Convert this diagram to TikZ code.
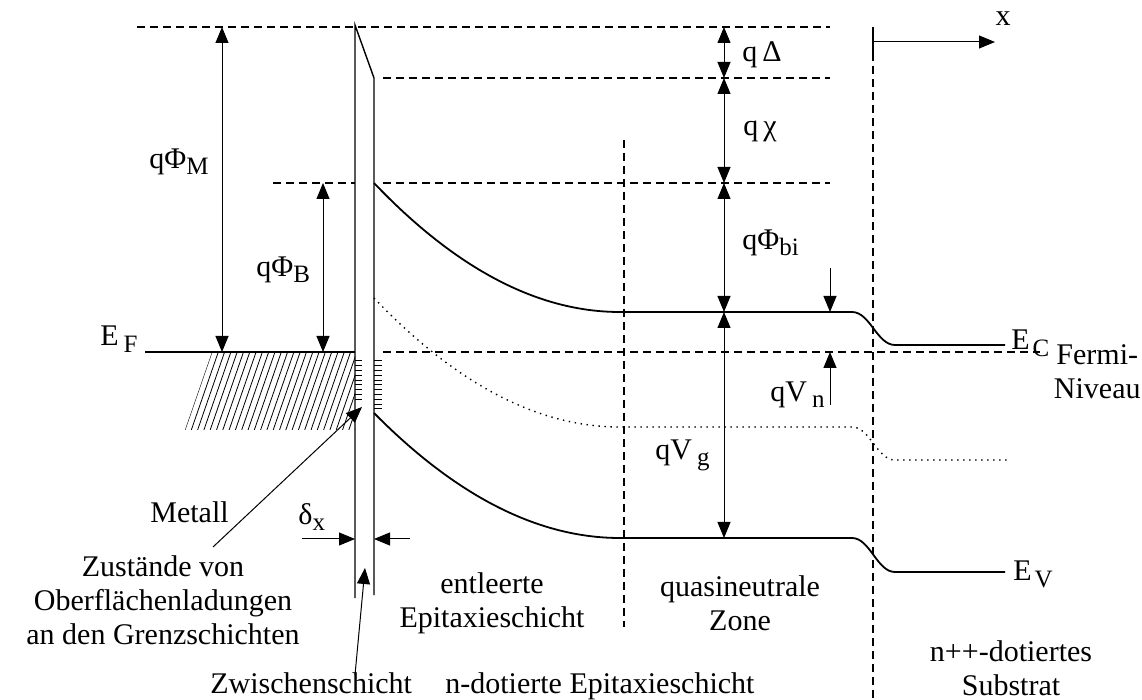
\documentclass[tikz,border=0pt]{standalone}
\usepackage{fontspec}
\setmainfont{Liberation Serif}
\usetikzlibrary{arrows.meta}
\newcommand\lowtxt[1]{\raisebox{-0.45ex}{\fontsize{12.5}{13}\selectfont #1}}

\begin{document}
\begin{tikzpicture}[x=0.5pt, y=-0.5pt,
    lbl/.style={font=\fontsize{15}{17}\selectfont, inner sep=0pt},
    lvl/.style={line width=0.9pt, dash pattern=on 4pt off 2.5pt},
    band/.style={line width=0.9pt},
    dimarrow/.style={line width=0.5pt, {Triangle[length=8pt,width=6.5pt]}-{Triangle[length=8pt,width=6.5pt]}},
    ptr/.style={line width=0.5pt, -{Triangle[length=8pt,width=6.5pt]}}]
    \useasboundingbox (0,0) rectangle (1142,700);

    % 1. Energy levels (dashed) and the Fermi level
    \draw[lvl] (137,27) -- (830,27);
    \draw[lvl] (383,78) -- (830,78);
    \draw[lvl] (273,183) -- (355,183);
    \draw[lvl] (383,183) -- (830,183);
    \draw[band] (145,352) -- (355,352);
    \draw[lvl] (383,352) -- (1040,352);

    % 2. Region borders
    \draw[lvl] (624,140) -- (624,627);
    \draw[line width=0.9pt] (873,27) -- (873,53);
    \draw[lvl] (873,53) -- (873,700);

    % 3. Metal (hatched) and interface layer
    \begin{scope}
        \clip (212,352) -- (355,352) -- (355,430) -- (185,430) -- cycle;
        \foreach \i in {0,...,30}
            \draw[line width=0.4pt] (185+6.3*\i,430) -- (212+6.3*\i,352);
    \end{scope}
    \draw[line width=0.7pt] (355,598) -- (355,25) -- (374,78) -- (374,595);
    \foreach \i in {0,...,8}
        \draw[line width=0.5pt] (355,361+4.8*\i) -- (362,361+4.8*\i);
    \foreach \i in {0,...,10}
        \draw[line width=0.5pt] (374,361+4.8*\i) -- (382,361+4.8*\i);

    % 4. Band edges
    \draw[band] (374,183) .. controls (456,269) and (538,312) .. (620,312) -- (852,312)
        .. controls (870,312) and (877,345) .. (895,345) -- (1005,345);
    \draw[line width=0.7pt, dash pattern=on 0.7pt off 2.3pt] (374,298) .. controls (456,384) and (538,427) .. (620,427) -- (852,427)
        .. controls (870,427) and (877,460) .. (895,460) -- (1010,460);
    \draw[band] (374,413) .. controls (456,496) and (538,538) .. (620,538) -- (852,538)
        .. controls (870,538) and (877,572) .. (895,572) -- (1005,572);

    % 5. Named points for the arrows
    \coordinate (vacM) at (222,27);   \coordinate (fermiM) at (222,352);
    \coordinate (barB) at (323,183);  \coordinate (fermiB) at (323,352);
    \coordinate (vac) at (724,27);    \coordinate (aff) at (724,78);
    \coordinate (bar) at (724,183);   \coordinate (ec) at (724,312);
    \coordinate (ev) at (724,538);
    \coordinate (vnTop) at (830,268); \coordinate (vnEc) at (830,312);
    \coordinate (vnBot) at (830,405); \coordinate (vnEf) at (830,352);
    \coordinate (dxL) at (302,539);   \coordinate (dxLe) at (355,539);
    \coordinate (dxR) at (410,539);   \coordinate (dxRe) at (374,539);
    \coordinate (xStart) at (873,42); \coordinate (xEnd) at (995,42);
    \coordinate (ssTip) at (362,407); \coordinate (zwTip) at (365,568);

    % 6. Labels
    \node[lbl] (xlab) at (1003,19) {x};
    \node[lbl, anchor=west] (qdelta) at (742,55) {q\,Δ};
    \node[lbl, anchor=west] (qchi) at (743,131) {q\,χ};
    \node[lbl, anchor=west] (qphibi) at (742,243) {qΦ\lowtxt{bi}};
    \node[lbl, anchor=west] (qphim) at (149,162) {qΦ\lowtxt{M}};
    \node[lbl, anchor=west] (qphib) at (256,270) {qΦ\lowtxt{B}};
    \node[lbl, anchor=base west] (ef) at (100,346) {E\,\lowtxt{F}};
    \node[lbl, anchor=base west] (ecl) at (1011,350) {E\kern1.5pt\lowtxt{C}};
    \node[lbl, anchor=base west] (evl) at (1013,581) {E\kern1.5pt\lowtxt{V}};
    \node[lbl, align=center, anchor=east] (fermi) at (1141,372) {Fermi-\\Niveau};
    \node[lbl, anchor=east] (qvn) at (825,395) {qV\,\lowtxt{n}};
    \node[lbl, anchor=west] (qvg) at (655,455) {qV\,\lowtxt{g}};
    \node[lbl, anchor=west] (metall) at (150,512) {Metall};
    \node[lbl, anchor=west] (deltax) at (298,517) {δ\lowtxt{x}};
    \node[lbl, align=center, anchor=north] (zust) at (163,555) {Zustände von\\Oberflächenladungen\\an den Grenzschichten};
    \node[lbl, anchor=base west] (zwisch) at (210,693) {Zwischenschicht};
    \node[lbl, anchor=base west] (ndot) at (445,693) {n-dotierte Epitaxieschicht};
    \node[lbl, align=center] (entl) at (492,603) {entleerte\\Epitaxieschicht};
    \node[lbl, align=center] (quasi) at (740,603) {quasineutrale\\Zone};
    \node[lbl, align=center] (subst) at (1011,668) {n++-dotiertes\\Substrat};
    \coordinate (zustFoot) at (213,547);
    \coordinate (zwFoot) at (355,675);

    % 7. Arrows
    \draw[dimarrow] (vacM) -- (fermiM);
    \draw[dimarrow] (barB) -- (fermiB);
    \draw[dimarrow] (vac) -- (aff);
    \draw[dimarrow] (aff) -- (bar);
    \draw[dimarrow] (bar) -- (ec);
    \draw[dimarrow] (ec) -- (ev);
    \draw[ptr] (vnTop) -- (vnEc);
    \draw[ptr] (vnBot) -- (vnEf);
    \draw[ptr] (dxL) -- (dxLe);
    \draw[ptr] (dxR) -- (dxRe);
    \draw[ptr] (xStart) -- (xEnd);
    \draw[ptr] (zustFoot) -- (ssTip);
    \draw[ptr] (zwFoot) -- (zwTip);
\end{tikzpicture}
\end{document}
